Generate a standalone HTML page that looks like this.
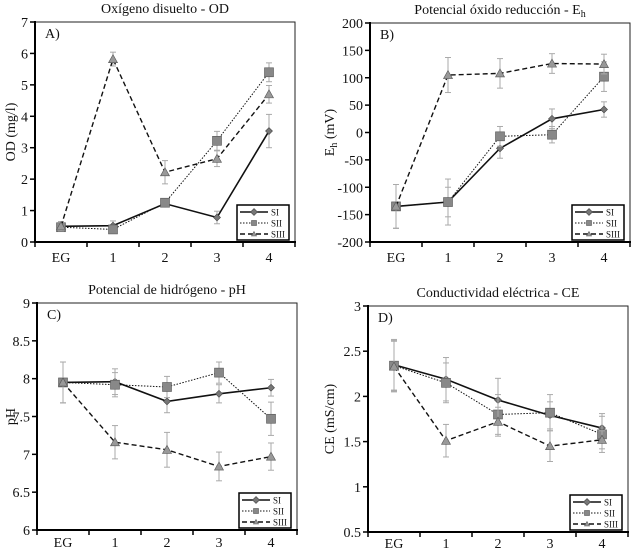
<!DOCTYPE html>
<html><head><meta charset="utf-8"><style>
body{margin:0;background:#fff;}
svg{display:block;font-family:"Liberation Serif",serif;}
</style></head><body>
<svg id="chart" width="635" height="551"></svg>
<script>
const categories=["EG","1","2","3","4"];
const seriesNames=["SI","SII","SIII"];
// Panel A
const odSI=[0.5,0.52,1.22,0.78,3.53], odSIerr=[0.15,0.15,0.1,0.2,0.53];
const odSII=[0.47,0.4,1.25,3.22,5.4], odSIIerr=[0.1,0.08,0.1,0.3,0.3];
const odSIII=[0.5,5.82,2.22,2.65,4.7], odSIIIerr=[0.15,0.22,0.37,0.25,0.28];
const odTicks=[0,1,2,3,4,5,6,7];
// Panel B
const ehSI=[-135,-127,-29,25,42], ehSIerr=[40,42,18,18,14];
const ehSII=[-135,-127,-7,-4,102], ehSIIerr=[40,27,18,15,27];
const ehSIII=[-135,105,108,126,125], ehSIIIerr=[40,32,27,18,18];
const ehTicks=[-200,-150,-100,-50,0,50,100,150,200];
// Panel C
const phSI=[7.95,7.96,7.70,7.80,7.88], phSIerr=[0.27,0.17,0.15,0.12,0.11];
const phSII=[7.95,7.92,7.89,8.08,7.47], phSIIerr=[0.27,0.16,0.14,0.14,0.22];
const phSIII=[7.95,7.16,7.06,6.84,6.97], phSIIIerr=[0.27,0.22,0.23,0.19,0.18];
const phTicks=[6,6.5,7,7.5,8,8.5,9];
// Panel D
const ceSI=[2.35,2.19,1.96,1.79,1.65], ceSIerr=[0.28,0.24,0.24,0.15,0.16];
const ceSII=[2.34,2.15,1.80,1.82,1.58], ceSIIerr=[0.28,0.22,0.22,0.2,0.2];
const ceSIII=[2.33,1.51,1.72,1.45,1.52], ceSIIIerr=[0.28,0.18,0.16,0.17,0.1];
const ceTicks=[0.5,1,1.5,2,2.5,3];

const svg=document.getElementById('chart');
const NS="http://www.w3.org/2000/svg";
function el(tag,attrs,parent,text){const e=document.createElementNS(NS,tag);for(const k in attrs)e.setAttribute(k,attrs[k]);if(text!==undefined)e.textContent=text;(parent||svg).appendChild(e);return e;}

const panels=[
 {id:"od",letter:"A)",title:"Oxígeno disuelto - OD",ylab:"OD (mg/l)",labX:15,xlabDy:20,L:35,T:22,R:295,B:242,ticks:odTicks,fmt:v=>String(v),
  data:[[odSI,odSIerr],[odSII,odSIIerr],[odSIII,odSIIIerr]]},
 {id:"eh",letter:"B)",title:"Potencial óxido reducción - E",sub:"h",ylab:"E",ylabSub:"h",ylabRest:" (mV)",labX:334,xlabDy:20,L:370,T:23,R:630,B:242,ticks:ehTicks,fmt:v=>String(v),
  data:[[ehSI,ehSIerr],[ehSII,ehSIIerr],[ehSIII,ehSIIIerr]]},
 {id:"ph",letter:"C)",title:"Potencial de hidrógeno - pH",ylab:"pH",labX:15,xlabDy:17,L:37,T:303,R:297,B:530,ticks:phTicks,fmt:v=>String(v),
  data:[[phSI,phSIerr],[phSII,phSIIerr],[phSIII,phSIIIerr]]},
 {id:"ce",letter:"D)",title:"Conductividad eléctrica - CE",ylab:"CE (mS/cm)",labX:334,xlabDy:16,L:368,T:306,R:628,B:532,ticks:ceTicks,fmt:v=>String(v),
  data:[[ceSI,ceSIerr],[ceSII,ceSIIerr],[ceSIII,ceSIIIerr]]}
];
const dashes=["none","1.5,1.5","5,3"];
const widths=[1.6,1,1.4];

function marker(g,k,x,y,s){
 let m;
 if(k===0){m=el('polygon',{points:`${x},${y-3.5} ${x+3.5},${y} ${x},${y+3.5} ${x-3.5},${y}`,fill:'#777',stroke:'#444','stroke-width':0.6},g);}
 else if(k===1){m=el('rect',{x:x-s,y:y-s,width:2*s,height:2*s,fill:'#888',stroke:'#555','stroke-width':0.6},g);}
 else {m=el('polygon',{points:`${x},${y-s} ${x+s},${y+s*0.8} ${x-s},${y+s*0.8}`,fill:'#999',stroke:'#555','stroke-width':0.6},g);}
 return m;
}

panels.forEach(p=>{
 const g=el('g',{},svg);
 
 
 const lo=p.ticks[0],hi=p.ticks[p.ticks.length-1];
 const y=v=>p.B-(v-lo)/(hi-lo)*(p.B-p.T);
 const bw=(p.R-p.L)/categories.length;
 const x=i=>p.L+bw*(i+0.5);
 el('rect',{x:p.L,y:p.T,width:p.R-p.L,height:p.B-p.T,fill:'none',stroke:'#222','stroke-width':1},g);
 el('line',{x1:p.L,y1:p.T-1,x2:p.L,y2:p.B,stroke:'#000','stroke-width':2},g);
 el('line',{x1:p.L-1,y1:p.B,x2:p.R+1,y2:p.B,stroke:'#000','stroke-width':2},g);
 const t=el('text',{x:(p.L+p.R)/2,y:p.T-9,'text-anchor':'middle','font-size':14,fill:'#111'},g,p.title);
 
 
 if(p.sub){el('tspan',{'font-size':10,dy:3},t,p.sub);}
 const lt=el('text',{x:p.L+10,y:p.T+16,'font-size':14,fill:'#111'},g,p.letter);
 
 
 p.ticks.forEach(v=>{
  el('line',{x1:p.L-5,y1:y(v),x2:p.L,y2:y(v),stroke:'#000','stroke-width':1.5},g);
  const tx=el('text',{x:p.L-7,y:y(v)+5,'text-anchor':'end','font-size':14,fill:'#111'},g,p.fmt(v));
  
  
 });
 for(let i=0;i<=categories.length;i++){el('line',{x1:p.L+bw*i,y1:p.B,x2:p.L+bw*i,y2:p.B+5,stroke:'#000','stroke-width':1.5},g);}
 categories.forEach((c,i)=>{
  const tx=el('text',{x:x(i),y:p.B+p.xlabDy,'text-anchor':'middle','font-size':14,fill:'#111'},g,c);
  
  
 });
 const cy=(p.T+p.B)/2,lx=p.labX;
 const yl=el('text',{x:lx,y:cy,'text-anchor':'middle','font-size':14,fill:'#111',transform:`rotate(-90 ${lx} ${cy})`},g,p.ylab);
 
 
 if(p.ylabSub){el('tspan',{'font-size':10,dy:3},yl,p.ylabSub);el('tspan',{dy:-3},yl,p.ylabRest);}
 p.data.forEach((d,k)=>{
  const [vals,errs]=d;
  const sg=el('g',{},g);
  
  
  vals.forEach((v,i)=>{
   const e1=y(v-errs[i]),e2=y(v+errs[i]);
   el('line',{x1:x(i),y1:e1,x2:x(i),y2:e2,stroke:'#aaa','stroke-width':1},sg);
   el('line',{x1:x(i)-3,y1:e1,x2:x(i)+3,y2:e1,stroke:'#aaa','stroke-width':1},sg);
   el('line',{x1:x(i)-3,y1:e2,x2:x(i)+3,y2:e2,stroke:'#aaa','stroke-width':1},sg);
  });
  const pts=vals.map((v,i)=>x(i)+','+y(v)).join(' ');
  const ln=el('polyline',{points:pts,fill:'none',stroke:'#111','stroke-width':widths[k],'stroke-dasharray':dashes[k]},sg);
  
  
  vals.forEach((v,i)=>{
   const m=marker(sg,k,x(i),y(v),4.5);
   
   
  });
 });
 const lg=el('g',{},g);
 
 
 const lx0=p.R-58,ly0=p.B-37;
 el('rect',{x:lx0,y:ly0,width:52,height:35,fill:'#fff',stroke:'#000','stroke-width':1.5},lg);
 seriesNames.forEach((n,k)=>{
  const yy=ly0+7+k*11;
  const e=el('g',{},lg);
  
  
  el('line',{x1:lx0+3,y1:yy,x2:lx0+31,y2:yy,stroke:'#111','stroke-width':widths[k],'stroke-dasharray':dashes[k]},e);
  marker(e,k,lx0+17,yy,2.5);
  el('text',{x:lx0+34,y:yy+3.5,'font-size':9,fill:'#111'},e,n);
 });
});
</script>
</body></html>
